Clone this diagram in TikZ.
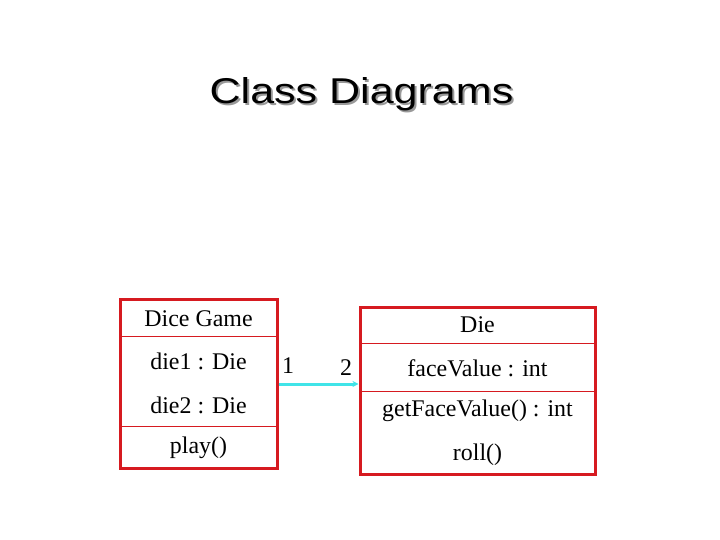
\documentclass[tikz,border=0pt]{standalone}
\usepackage{fontspec}
\setmainfont{Liberation Serif}
\newfontfamily\titlefont{Liberation Sans}
\usetikzlibrary{arrows.meta}
\definecolor{boxred}{RGB}{214,26,32}
\definecolor{linkcyan}{RGB}{64,228,232}
\tikzset{
  classbox/.style={draw=boxred, line width=3bp, inner sep=0pt},
  rowline/.style={draw=boxred, line width=1bp},
  member/.style={font=\fontsize{24}{28}\selectfont, inner sep=0pt},
  heading/.style={font=\titlefont\fontsize{36}{42}\selectfont, anchor=base, xscale=1.2, transform shape},
}
\begin{document}
\begin{tikzpicture}[x=1bp, y=-1bp]
  \useasboundingbox (0,0) rectangle (720,540);

  % Title
  \node [heading, text=black!40] at (363.5,106) {Class Diagrams};
  \node (title) [heading] at (361.5,104) {Class Diagrams};

  % Dice Game
  \node (game) [classbox, minimum width=157bp, minimum height=168bp] at (198.5,384) {};
  \draw [rowline] (120,336) -- (277,336);
  \draw [rowline] (120,426) -- (277,426);
  \node (gamename) [member] at (198.5,319) {Dice Game};
  \node (die1) [member] at (198.5,361) {die1 : Die};
  \node (die2) [member] at (198.5,405) {die2 : Die};
  \node (play) [member] at (198.5,448) {play()};

  % Die
  \node (die) [classbox, minimum width=235bp, minimum height=166bp] at (477.5,391) {};
  \draw [rowline] (360,343) -- (595,343);
  \draw [rowline] (360,391) -- (595,391);
  \node (diename) [member] at (477.5,325) {Die};
  \node (face) [member] at (477.5,368) {faceValue : int};
  \node (getface) [member] at (477.5,411) {getFaceValue() : int};
  \node (roll) [member] at (477.5,455) {roll()};

  % Association
  \draw [linkcyan, line width=3bp, -{Stealth[length=6bp, width=6bp]}] (game.east) -- (game.east -| die.west);
  \node (multgame) [member] at (288,366) {1};
  \node (multdie) [member] at (346,368) {2};
\end{tikzpicture}
\end{document}
